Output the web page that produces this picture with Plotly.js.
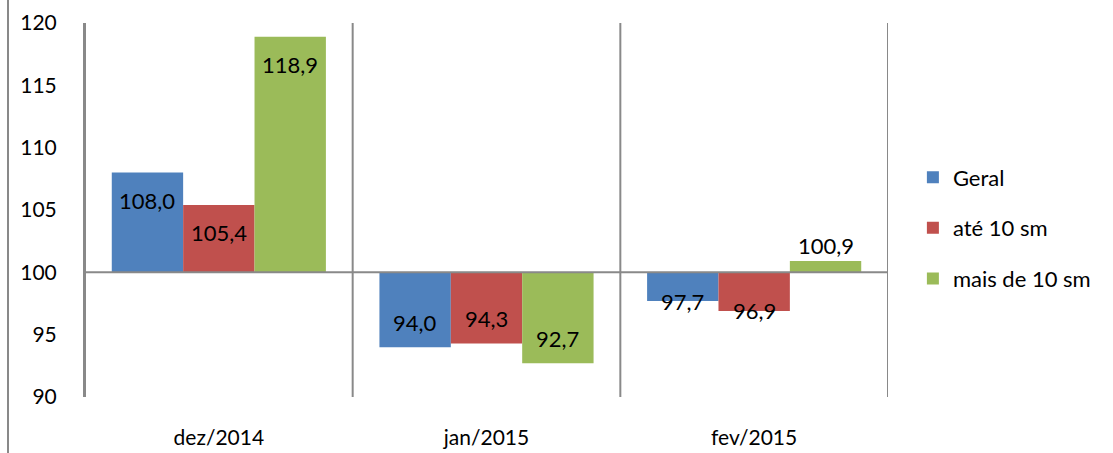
<!DOCTYPE html>
<html>
<head>
<meta charset="utf-8">
<script src="https://cdn.plot.ly/plotly-3.0.1.min.js"></script>
<style>html,body{margin:0;padding:0;background:#fff;}#chart{width:1113px;height:453px;}</style>
</head>
<body>
<div id="chart"></div>
<script>
const categories = ['dez/2014', 'jan/2015', 'fev/2015'];
const seriesNames = ['Geral', 'até 10 sm', 'mais de 10 sm'];
const geral = [108.0, 94.0, 97.7];
const ate10 = [105.4, 94.3, 96.9];
const mais10 = [118.9, 92.7, 100.9];
const yTicks = [90, 95, 100, 105, 110, 115, 120];
const baseValue = 100;

const colors = ['#4F81BD', '#C0504D', '#9BBB59'];
const series = [geral, ate10, mais10];
const FONT = 'Lato, "Open Sans", sans-serif';
const fmt = v => v.toFixed(1).replace('.', ',');

const margin = {l: 85, r: 225, t: 23, b: 56};
const plotW = 1113 - margin.l - margin.r;
const plotH = 453 - margin.t - margin.b;
const yMin = 90, yMax = 120;
const pxPerUnit = plotH / (yMax - yMin);
const bargap = 0.2;
const barW = (plotW / categories.length) * (1 - bargap) / series.length;

const traces = series.map((vals, j) => ({
  type: 'bar',
  name: seriesNames[j],
  x: categories,
  y: vals.map(v => v - baseValue),
  base: baseValue,
  marker: {color: colors[j]},
  legendgroup: 'g' + j,
  hoverinfo: 'skip'
}));

const annotations = [];
series.forEach((vals, j) => {
  vals.forEach((v, i) => {
    const d = v - baseValue;
    const hpx = Math.abs(d) * pxPerUnit;
    let yanchor, yshift;
    if (hpx < 45) {
      if (d >= 0) { yanchor = 'bottom'; yshift = 0; }
      else { yanchor = 'middle'; yshift = 0; }
    } else {
      if (d >= 0) { yanchor = 'top'; yshift = -12; }
      else { yanchor = 'bottom'; yshift = 9; }
    }
    annotations.push({
      x: categories[i], y: v, xref: 'x', yref: 'y',
      text: fmt(v), showarrow: false,
      xshift: (j - (series.length - 1) / 2) * barW,
      yanchor: yanchor, yshift: yshift,
      font: {family: FONT, size: 22, color: '#000'}
    });
  });
});

const shapes = [];
for (let i = 0; i <= categories.length; i++) {
  shapes.push({type: 'line', xref: 'x', yref: 'paper', x0: i - 0.5, x1: i - 0.5, y0: 0, y1: 1,
    line: {color: '#898989', width: 2}, layer: 'above'});
}
shapes.push({type: 'line', xref: 'paper', yref: 'y', x0: 0, x1: 1, y0: baseValue, y1: baseValue,
  line: {color: '#898989', width: 2}, layer: 'above'});
shapes.push({type: 'line', xref: 'paper', yref: 'paper',
  x0: (8 - margin.l) / plotW, x1: (8 - margin.l) / plotW,
  y0: -margin.b / plotH, y1: 1 + margin.t / plotH,
  line: {color: '#898989', width: 2}});

const layout = {
  width: 1113, height: 453,
  margin: margin,
  paper_bgcolor: '#fff', plot_bgcolor: '#fff',
  barmode: 'group', bargap: bargap, bargroupgap: 0,
  font: {family: FONT, size: 21, color: '#000'},
  xaxis: {
    type: 'category', range: [-0.5, categories.length - 0.5],
    showgrid: false, zeroline: false, showline: false, ticks: '',
    ticklabelstandoff: 26, tickfont: {family: FONT, size: 21, color: '#000'},
    fixedrange: true
  },
  yaxis: {
    range: [yMin, yMax], tickvals: yTicks, ticktext: yTicks.map(String),
    showgrid: false, zeroline: false, showline: true, linecolor: '#898989', linewidth: 2,
    ticks: '', ticklabelstandoff: 22, tickfont: {family: FONT, size: 21, color: '#000'},
    fixedrange: true
  },
  showlegend: true,
  legend: {
    x: 1.031, xanchor: 'left', y: 0.452, yanchor: 'middle',
    traceorder: 'grouped', tracegroupgap: 19,
    font: {family: FONT, size: 22, color: '#000'},
    bgcolor: 'rgba(0,0,0,0)', itemwidth: 30, borderwidth: 0
  },
  shapes: shapes,
  annotations: annotations
};

Plotly.newPlot('chart', traces, layout, {displayModeBar: false, staticPlot: true});
</script>
</body>
</html>
